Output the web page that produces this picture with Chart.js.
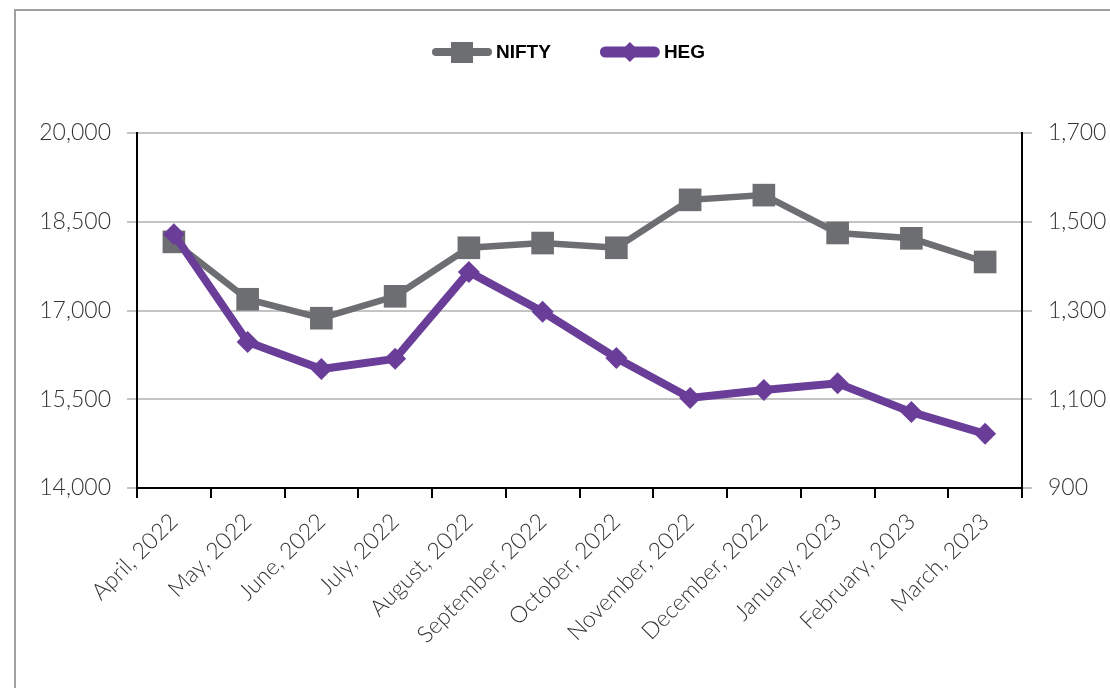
<!DOCTYPE html>
<html>
<head>
<meta charset="utf-8">
<script src="https://cdn.jsdelivr.net/npm/chart.js@4.4.1/dist/chart.umd.min.js"></script>
<style>
  body { margin: 0; background: #fff; }
  /* marco gris que sale por la derecha y por abajo */
  .marco {
    position: absolute; left: 14px; top: 9px;
    width: 1200px; height: 800px;
    border: 2px solid #a0a0a0;
  }
  .chart-box { position: absolute; left: 0; top: 0; width: 1110px; height: 688px; }
</style>
</head>
<body>
<div class="marco"></div>
<div class="chart-box"><canvas id="niftyHeg"></canvas></div>
<script>
  const meses = [
    "April, 2022", "May, 2022", "June, 2022", "July, 2022", "August, 2022",
    "September, 2022", "October, 2022", "November, 2022", "December, 2022",
    "January, 2023", "February, 2023", "March, 2023",
  ];
  const nifty = [18160, 17190, 16870, 17240, 18060, 18140, 18060, 18870, 18950, 18310, 18220, 17820];
  const heg = [1472, 1229, 1168, 1191, 1387, 1297, 1193, 1103, 1121, 1136, 1071, 1022];
  const niftyTicks = [14000, 15500, 17000, 18500, 20000];
  const hegTicks = [900, 1100, 1300, 1500, 1700];

  const GRIS = "#6d6e71";
  const MORADO = "#6a3d99";
  const fmt = (v) => Number(v).toLocaleString("en-US");

  // Leyenda dibujada a mano: linea + marcador como en el original
  const leyenda = {
    id: "leyenda",
    afterDraw(chart) {
      const ctx = chart.ctx;
      const items = [
        { texto: "NIFTY", color: GRIS, grosor: 8, marca: "rect" },
        { texto: "HEG", color: MORADO, grosor: 11, marca: "rectRot" },
      ];
      ctx.save();
      ctx.font = 'bold 19px "Liberation Sans"';
      ctx.textBaseline = "middle";
      const y = 52;
      let x = 432;
      items.forEach((it) => {
        ctx.strokeStyle = it.color;
        ctx.fillStyle = it.color;
        ctx.lineWidth = it.grosor;
        ctx.lineCap = "round";
        ctx.beginPath();
        ctx.moveTo(x + it.grosor / 2, y);
        ctx.lineTo(x + 60 - it.grosor / 2, y);
        ctx.stroke();
        const cx = x + 30;
        if (it.marca === "rect") {
          ctx.fillRect(cx - 11, y - 10, 22, 21);
        } else {
          ctx.beginPath();
          ctx.moveTo(cx, y - 10);
          ctx.lineTo(cx + 10, y);
          ctx.lineTo(cx, y + 10);
          ctx.lineTo(cx - 10, y);
          ctx.closePath();
          ctx.fill();
        }
        ctx.fillStyle = "#000";
        ctx.fillText(it.texto, x + 64, y + 1);
        x += 64 + ctx.measureText(it.texto).width + 49;
      });
      ctx.restore();
    },
  };

  const fuenteEje = { family: "Lato", size: 23, weight: "300" };

  new Chart(document.getElementById("niftyHeg"), {
    type: "line",
    data: {
      labels: meses,
      datasets: [
        {
          label: "NIFTY",
          data: nifty,
          yAxisID: "yNifty",
          borderColor: GRIS,
          backgroundColor: GRIS,
          borderWidth: 6.5,
          pointStyle: "rect",
          pointRadius: 16,
          pointHoverRadius: 16,
          pointBorderWidth: 0,
          tension: 0,
          order: 2,
        },
        {
          label: "HEG",
          data: heg,
          yAxisID: "yHeg",
          borderColor: MORADO,
          backgroundColor: MORADO,
          borderWidth: 8,
          pointStyle: "rectRot",
          pointRadius: 11,
          pointHoverRadius: 11,
          pointBorderWidth: 0,
          tension: 0,
          order: 1,
        },
      ],
    },
    options: {
      responsive: true,
      maintainAspectRatio: false,
      animation: false,
      layout: { padding: { top: 133, left: 0, right: 0, bottom: 0 } },
      plugins: {
        legend: { display: false },
        tooltip: { enabled: false },
      },
      scales: {
        x: {
          offset: true,
          grid: {
            offset: true,
            drawOnChartArea: false,
            color: "#000",
            lineWidth: 2,
            tickLength: 10,
          },
          border: { color: "#000", width: 2 },
          ticks: {
            minRotation: 45,
            maxRotation: 45,
            autoSkip: false,
            padding: 10,
            color: "#333",
            font: { family: "Lato", size: 23, weight: "300" },
          },
          afterFit: (s) => { s.height = 200; },
        },
        yNifty: {
          position: "left",
          min: 14000,
          max: 20000,
          afterBuildTicks: (s) => { s.ticks = niftyTicks.map((v) => ({ value: v })); },
          grid: { color: "#c4c4c4", lineWidth: 2, tickLength: 10 },
          border: { color: "#000", width: 2 },
          ticks: { color: "#333", font: fuenteEje, padding: 16, callback: fmt },
          afterFit: (s) => { s.width = 137; },
        },
        yHeg: {
          position: "right",
          min: 900,
          max: 1700,
          afterBuildTicks: (s) => { s.ticks = hegTicks.map((v) => ({ value: v })); },
          grid: { drawOnChartArea: false, color: "#c4c4c4", lineWidth: 2, tickLength: 10 },
          border: { color: "#000", width: 2 },
          ticks: { color: "#333", font: fuenteEje, padding: 16, callback: fmt },
          afterFit: (s) => { s.width = 88; },
        },
      },
    },
    plugins: [leyenda],
  });
</script>
</body>
</html>
